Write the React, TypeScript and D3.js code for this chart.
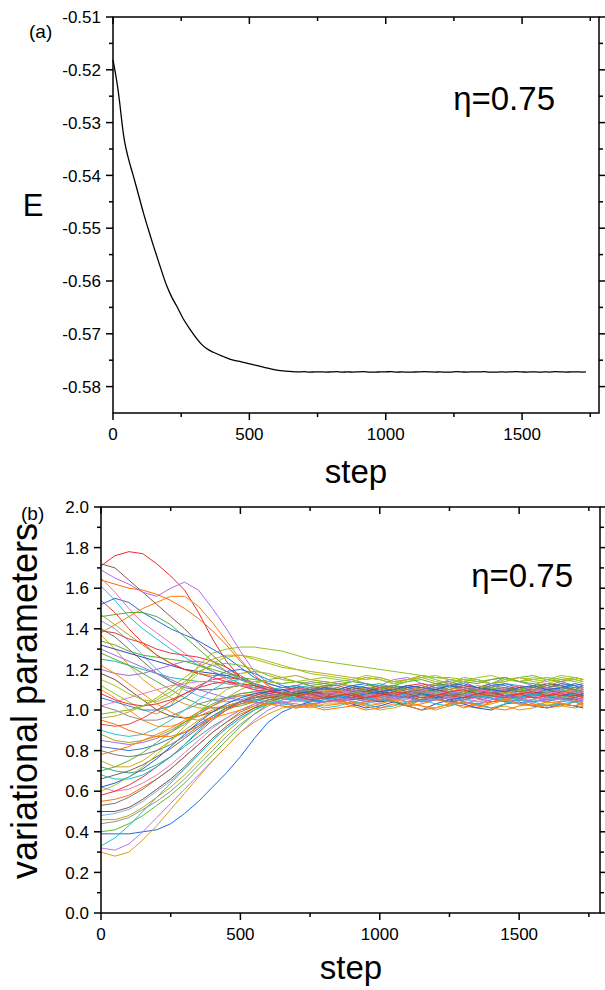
import React from 'react';
import * as d3 from 'd3';

// ---------- Panel (a): energy ----------
const eSteps = [
  0, 6, 12, 19, 24, 28, 34, 40, 44, 55, 65, 74, 90, 111, 130, 148, 170, 197, 215, 233,
  258, 282, 307, 325, 343, 368, 404, 441, 470, 502, 551, 600, 648,
  680, 700, 720, 740, 760, 780, 800, 820, 840, 860,
  880, 900, 920, 940, 960, 980, 1000, 1020, 1040, 1060,
  1080, 1100, 1120, 1140, 1160, 1180, 1200, 1220, 1240, 1260,
  1280, 1300, 1320, 1340, 1360, 1380, 1400, 1420, 1440, 1460,
  1480, 1500, 1520, 1540, 1560, 1580, 1600, 1620, 1640, 1660,
  1680, 1700, 1720, 1734,
];
const eValues = [
  -0.5181, -0.5198, -0.5216, -0.524, -0.526, -0.5278, -0.5305, -0.5328, -0.534, -0.5365,
  -0.5384, -0.54, -0.543, -0.547, -0.5503, -0.5533, -0.5568, -0.5609, -0.563, -0.5647,
  -0.5672, -0.5691, -0.5709, -0.572, -0.5728, -0.5735, -0.5743, -0.575, -0.5753, -0.5757,
  -0.5763, -0.5769, -0.5771,
  -0.57722, -0.57718, -0.57726, -0.57722, -0.5772, -0.57725, -0.57722, -0.57718, -0.57725, -0.57722,
  -0.57725, -0.5772, -0.57718, -0.57725, -0.57726, -0.57722, -0.5772, -0.57718, -0.57725, -0.57722,
  -0.57726, -0.57724, -0.57722, -0.57718, -0.5772, -0.57725, -0.57722, -0.57726, -0.57724, -0.57718,
  -0.57722, -0.57725, -0.5772, -0.57722, -0.57718, -0.57725, -0.57726, -0.57722, -0.57724, -0.5772,
  -0.57718, -0.57722, -0.57725, -0.5772, -0.57726, -0.57722, -0.57724, -0.57718, -0.5772, -0.57725,
  -0.57722, -0.5772, -0.57725, -0.57722,
];
const eMajorTicks = [-0.58, -0.57, -0.56, -0.55, -0.54, -0.53, -0.52, -0.51];
const eMinorTicks = [-0.575, -0.565, -0.555, -0.545, -0.535, -0.525, -0.515];

// ---------- Panel (b): variational parameters ----------
const paramSteps = [
  0, 50, 100, 150, 200, 250, 300, 350, 400, 450, 500, 550, 600, 650, 700, 750, 800,
  850, 900, 950, 1000, 1050, 1100, 1150, 1200, 1250, 1300,
  1350, 1400, 1450, 1500, 1550, 1600, 1650, 1700, 1730,
];
// steps 0 .. 800
const paramHeads: number[][] = [
  [1.71,1.76,1.78,1.77,1.72,1.66,1.59,1.48,1.35,1.24,1.16,1.12,1.10,1.09,1.11,1.10,1.09],
  [1.72,1.70,1.64,1.58,1.52,1.46,1.40,1.33,1.27,1.21,1.16,1.12,1.10,1.08,1.07,1.08,1.06],
  [1.69,1.65,1.62,1.58,1.56,1.60,1.63,1.59,1.50,1.40,1.29,1.19,1.13,1.11,1.12,1.14,1.13],
  [1.64,1.62,1.60,1.59,1.57,1.54,1.50,1.45,1.39,1.32,1.24,1.17,1.12,1.08,1.06,1.05,1.04],
  [1.61,1.54,1.46,1.40,1.35,1.30,1.26,1.22,1.19,1.16,1.13,1.11,1.10,1.09,1.08,1.09,1.07],
  [1.52,1.55,1.53,1.48,1.44,1.40,1.37,1.34,1.30,1.26,1.21,1.16,1.13,1.11,1.12,1.10,1.11],
  [1.65,1.58,1.50,1.43,1.38,1.33,1.28,1.23,1.19,1.15,1.12,1.10,1.08,1.07,1.06,1.05,1.07],
  [1.46,1.47,1.48,1.48,1.46,1.42,1.36,1.30,1.24,1.19,1.15,1.12,1.10,1.08,1.09,1.07,1.08],
  [1.38,1.42,1.46,1.50,1.53,1.56,1.56,1.51,1.43,1.34,1.25,1.17,1.12,1.09,1.10,1.08,1.09],
  [1.47,1.42,1.37,1.32,1.27,1.23,1.20,1.18,1.17,1.17,1.18,1.19,1.18,1.16,1.14,1.12,1.10],
  [1.44,1.40,1.34,1.27,1.20,1.14,1.10,1.07,1.05,1.04,1.05,1.07,1.09,1.10,1.11,1.12,1.10],
  [1.39,1.38,1.35,1.33,1.30,1.28,1.27,1.26,1.24,1.21,1.17,1.13,1.10,1.08,1.07,1.06,1.08],
  [1.40,1.36,1.30,1.24,1.18,1.14,1.11,1.10,1.10,1.11,1.12,1.11,1.10,1.08,1.09,1.10,1.08],
  [1.37,1.30,1.22,1.15,1.10,1.06,1.03,1.01,1.01,1.02,1.04,1.06,1.08,1.09,1.10,1.09,1.11],
  [1.32,1.30,1.28,1.26,1.24,1.22,1.20,1.19,1.18,1.17,1.15,1.13,1.11,1.09,1.07,1.05,1.04],
  [1.25,1.24,1.22,1.20,1.18,1.16,1.15,1.14,1.14,1.13,1.12,1.11,1.10,1.11,1.12,1.11,1.09],
  [1.28,1.25,1.22,1.18,1.14,1.10,1.06,1.03,1.01,1.01,1.02,1.04,1.06,1.07,1.06,1.07,1.09],
  [1.20,1.18,1.17,1.18,1.20,1.22,1.24,1.24,1.22,1.19,1.16,1.13,1.10,1.09,1.10,1.09,1.08],
  [1.18,1.15,1.10,1.05,1.00,0.97,0.96,0.97,0.99,1.02,1.04,1.06,1.07,1.06,1.05,1.07,1.08],
  [1.12,1.08,1.04,1.00,0.98,1.02,1.12,1.22,1.28,1.30,1.31,1.31,1.30,1.29,1.27,1.25,1.24],
  [1.10,1.06,1.00,0.95,0.92,0.92,0.94,0.97,1.00,1.02,1.04,1.05,1.06,1.07,1.08,1.06,1.07],
  [1.06,1.04,1.02,1.00,1.00,1.02,1.06,1.11,1.16,1.19,1.20,1.18,1.15,1.12,1.10,1.09,1.11],
  [1.02,1.00,0.97,0.95,0.95,0.97,1.00,1.03,1.05,1.06,1.07,1.07,1.06,1.08,1.07,1.09,1.08],
  [0.98,0.99,1.00,1.02,1.05,1.09,1.14,1.19,1.22,1.23,1.22,1.20,1.17,1.15,1.14,1.13,1.14],
  [0.93,0.92,0.93,0.96,1.00,1.04,1.08,1.12,1.15,1.16,1.15,1.13,1.11,1.09,1.07,1.08,1.09],
  [0.90,0.88,0.87,0.88,0.91,0.95,1.00,1.05,1.10,1.14,1.15,1.13,1.10,1.08,1.06,1.05,1.07],
  [0.88,0.85,0.84,0.85,0.87,0.90,0.94,0.98,1.02,1.06,1.10,1.13,1.15,1.16,1.17,1.15,1.14],
  [0.85,0.84,0.83,0.84,0.86,0.89,0.93,0.98,1.02,1.06,1.08,1.09,1.08,1.07,1.05,1.06,1.04],
  [0.82,0.81,0.80,0.81,0.83,0.86,0.89,0.93,0.97,1.01,1.04,1.06,1.08,1.09,1.11,1.10,1.12],
  [0.78,0.80,0.82,0.85,0.88,0.91,0.95,0.99,1.02,1.05,1.07,1.08,1.07,1.06,1.05,1.07,1.06],
  [0.75,0.72,0.72,0.75,0.80,0.85,0.90,0.95,0.99,1.02,1.04,1.06,1.07,1.08,1.07,1.09,1.10],
  [0.72,0.70,0.69,0.70,0.73,0.77,0.82,0.87,0.92,0.96,1.00,1.03,1.05,1.06,1.05,1.04,1.06],
  [0.70,0.72,0.75,0.79,0.84,0.89,0.94,0.99,1.03,1.06,1.08,1.09,1.10,1.09,1.08,1.10,1.09],
  [0.66,0.68,0.70,0.73,0.77,0.81,0.86,0.91,0.96,1.00,1.03,1.05,1.06,1.07,1.09,1.08,1.07],
  [0.62,0.60,0.61,0.64,0.68,0.73,0.79,0.85,0.91,0.96,1.00,1.03,1.05,1.06,1.04,1.05,1.07],
  [0.58,0.60,0.63,0.67,0.72,0.77,0.83,0.89,0.95,1.00,1.04,1.07,1.09,1.10,1.11,1.10,1.12],
  [0.55,0.56,0.58,0.62,0.66,0.71,0.77,0.83,0.89,0.94,0.98,1.01,1.03,1.04,1.03,1.02,1.04],
  [0.53,0.54,0.57,0.61,0.66,0.71,0.77,0.83,0.89,0.94,0.99,1.02,1.05,1.07,1.08,1.06,1.07],
  [0.50,0.50,0.52,0.56,0.61,0.66,0.72,0.79,0.86,0.92,0.97,1.01,1.04,1.06,1.08,1.09,1.08],
  [0.48,0.49,0.51,0.55,0.60,0.65,0.71,0.78,0.85,0.91,0.96,1.00,1.03,1.04,1.05,1.03,1.04],
  [0.46,0.46,0.48,0.52,0.57,0.62,0.68,0.75,0.82,0.89,0.95,1.00,1.04,1.07,1.09,1.11,1.12],
  [0.44,0.45,0.47,0.51,0.55,0.60,0.66,0.73,0.80,0.87,0.93,0.98,1.02,1.05,1.06,1.08,1.07],
  [0.40,0.41,0.44,0.48,0.53,0.58,0.64,0.71,0.78,0.85,0.92,0.98,1.03,1.06,1.08,1.09,1.10],
  [0.39,0.39,0.39,0.40,0.41,0.44,0.49,0.55,0.62,0.69,0.77,0.86,0.94,0.99,1.02,1.04,1.05],
  [0.33,0.37,0.43,0.50,0.57,0.64,0.71,0.78,0.85,0.91,0.96,1.00,1.03,1.05,1.06,1.04,1.05],
  [0.32,0.31,0.34,0.40,0.47,0.54,0.61,0.68,0.75,0.82,0.89,0.95,1.00,1.03,1.05,1.07,1.08],
  [0.30,0.28,0.30,0.36,0.43,0.51,0.59,0.67,0.75,0.82,0.89,0.94,0.98,1.01,1.02,1.01,1.03],
  [1.54,1.48,1.40,1.33,1.27,1.23,1.20,1.18,1.16,1.14,1.12,1.10,1.09,1.08,1.07,1.08,1.06],
  [1.02,1.04,1.06,1.08,1.10,1.12,1.13,1.14,1.14,1.13,1.12,1.11,1.10,1.09,1.10,1.11,1.09],
  [1.15,1.12,1.08,1.05,1.04,1.07,1.12,1.18,1.23,1.26,1.27,1.26,1.24,1.22,1.20,1.18,1.17],
  [0.62,0.64,0.67,0.71,0.76,0.82,0.88,0.94,0.99,1.03,1.06,1.08,1.09,1.10,1.08,1.09,1.11],
  [0.95,0.93,0.90,0.88,0.87,0.87,0.89,0.92,0.96,1.00,1.03,1.04,1.03,1.02,1.01,1.02,1.00],
  [1.34,1.32,1.29,1.27,1.26,1.25,1.24,1.22,1.20,1.18,1.16,1.15,1.14,1.13,1.14,1.12,1.13],
  [0.68,0.66,0.66,0.68,0.72,0.77,0.83,0.90,0.96,1.01,1.04,1.05,1.04,1.03,1.02,1.03,1.01],
  [1.08,1.05,1.03,1.02,1.03,1.05,1.08,1.11,1.13,1.14,1.13,1.12,1.10,1.08,1.07,1.05,1.06],
  [1.30,1.27,1.24,1.21,1.18,1.15,1.12,1.10,1.08,1.06,1.05,1.04,1.03,1.04,1.02,1.03,1.04],
  [0.80,0.78,0.77,0.78,0.80,0.83,0.87,0.92,0.97,1.01,1.04,1.06,1.07,1.08,1.09,1.11,1.10],
  [0.60,0.63,0.67,0.72,0.78,0.85,0.92,0.99,1.05,1.10,1.13,1.14,1.14,1.13,1.14,1.15,1.16],
  [1.22,1.18,1.13,1.08,1.03,0.99,0.96,0.95,0.96,0.98,1.00,1.02,1.03,1.02,1.01,1.03,1.02],
  [0.96,0.97,0.99,1.02,1.06,1.11,1.16,1.21,1.25,1.27,1.27,1.25,1.23,1.21,1.20,1.19,1.18],
];
// steps 850 .. 1730
const paramTails: number[][] = [
  [1.10,1.08,1.09,1.11,1.12,1.10,1.09,1.10,1.12,1.11,1.09,1.08,1.10,1.11,1.10,1.09,1.11,1.10,1.09],
  [1.05,1.06,1.08,1.07,1.06,1.08,1.09,1.07,1.06,1.05,1.07,1.08,1.06,1.07,1.08,1.06,1.07,1.08,1.07],
  [1.14,1.15,1.13,1.12,1.15,1.16,1.13,1.12,1.15,1.14,1.11,1.13,1.16,1.14,1.12,1.15,1.14,1.12,1.13],
  [1.04,1.02,1.03,1.05,1.04,1.02,1.05,1.06,1.03,1.02,1.01,1.04,1.05,1.03,1.02,1.04,1.03,1.02,1.03],
  [1.10,1.09,1.07,1.06,1.08,1.09,1.07,1.08,1.09,1.10,1.08,1.07,1.09,1.08,1.07,1.09,1.10,1.08,1.09],
  [1.10,1.12,1.13,1.11,1.10,1.12,1.11,1.13,1.14,1.12,1.11,1.13,1.12,1.10,1.11,1.13,1.12,1.11,1.12],
  [1.04,1.05,1.07,1.08,1.06,1.05,1.04,1.06,1.07,1.05,1.06,1.08,1.07,1.05,1.04,1.06,1.05,1.07,1.06],
  [1.08,1.06,1.07,1.09,1.10,1.08,1.07,1.09,1.08,1.06,1.08,1.10,1.09,1.07,1.08,1.10,1.09,1.08,1.07],
  [1.08,1.10,1.09,1.07,1.09,1.11,1.10,1.08,1.07,1.09,1.10,1.12,1.10,1.09,1.11,1.10,1.08,1.09,1.10],
  [1.07,1.09,1.08,1.06,1.07,1.08,1.10,1.09,1.07,1.06,1.08,1.07,1.05,1.06,1.08,1.09,1.07,1.06,1.08],
  [1.13,1.11,1.10,1.09,1.11,1.12,1.10,1.11,1.13,1.12,1.10,1.11,1.09,1.10,1.12,1.11,1.13,1.12,1.11],
  [1.08,1.07,1.05,1.04,1.06,1.07,1.05,1.06,1.08,1.07,1.06,1.04,1.05,1.07,1.06,1.05,1.07,1.08,1.06],
  [1.09,1.10,1.08,1.09,1.11,1.09,1.08,1.10,1.09,1.07,1.08,1.10,1.11,1.09,1.08,1.07,1.09,1.10,1.09],
  [1.09,1.08,1.06,1.08,1.09,1.07,1.06,1.08,1.10,1.09,1.07,1.08,1.09,1.11,1.10,1.08,1.07,1.09,1.08],
  [1.05,1.03,1.01,1.02,1.04,1.02,1.00,1.03,1.05,1.03,1.01,1.00,1.03,1.04,1.02,1.01,1.03,1.02,1.01],
  [1.09,1.10,1.12,1.13,1.11,1.10,1.09,1.11,1.12,1.10,1.09,1.11,1.13,1.12,1.10,1.09,1.11,1.12,1.10],
  [1.08,1.06,1.05,1.07,1.08,1.06,1.05,1.07,1.09,1.08,1.06,1.07,1.09,1.08,1.06,1.05,1.07,1.08,1.07],
  [1.08,1.11,1.10,1.08,1.07,1.09,1.11,1.10,1.08,1.09,1.11,1.10,1.08,1.07,1.09,1.11,1.10,1.09,1.10],
  [1.07,1.05,1.06,1.04,1.05,1.07,1.08,1.06,1.04,1.05,1.07,1.06,1.04,1.05,1.07,1.08,1.06,1.05,1.06],
  [1.23,1.22,1.21,1.20,1.19,1.18,1.17,1.16,1.16,1.15,1.14,1.15,1.16,1.14,1.15,1.16,1.15,1.16,1.15],
  [1.10,1.08,1.07,1.09,1.08,1.06,1.08,1.09,1.07,1.08,1.10,1.09,1.07,1.08,1.09,1.07,1.08,1.10,1.08],
  [1.08,1.09,1.11,1.10,1.08,1.07,1.09,1.10,1.12,1.10,1.08,1.09,1.10,1.08,1.07,1.09,1.11,1.10,1.09],
  [1.09,1.08,1.07,1.05,1.06,1.08,1.07,1.09,1.08,1.06,1.07,1.09,1.08,1.06,1.07,1.08,1.06,1.07,1.08],
  [1.13,1.14,1.16,1.15,1.13,1.15,1.17,1.15,1.13,1.16,1.15,1.13,1.14,1.16,1.17,1.15,1.14,1.16,1.15],
  [1.08,1.07,1.09,1.10,1.08,1.07,1.06,1.08,1.09,1.07,1.06,1.08,1.10,1.09,1.08,1.06,1.07,1.09,1.08],
  [1.07,1.06,1.08,1.09,1.10,1.08,1.07,1.09,1.08,1.07,1.09,1.10,1.08,1.07,1.09,1.08,1.10,1.09,1.07],
  [1.13,1.12,1.10,1.09,1.10,1.09,1.07,1.06,1.08,1.09,1.07,1.08,1.06,1.07,1.09,1.08,1.06,1.07,1.09],
  [1.06,1.04,1.05,1.07,1.06,1.04,1.05,1.06,1.04,1.03,1.05,1.06,1.04,1.05,1.07,1.05,1.04,1.06,1.05],
  [1.08,1.09,1.11,1.10,1.12,1.11,1.09,1.10,1.12,1.11,1.10,1.12,1.13,1.11,1.10,1.11,1.13,1.12,1.10],
  [1.07,1.08,1.06,1.07,1.09,1.08,1.06,1.05,1.07,1.08,1.06,1.07,1.08,1.10,1.08,1.07,1.06,1.08,1.07],
  [1.09,1.07,1.08,1.10,1.11,1.09,1.08,1.07,1.09,1.10,1.08,1.07,1.09,1.08,1.10,1.11,1.09,1.08,1.09],
  [1.04,1.06,1.07,1.05,1.04,1.03,1.05,1.06,1.04,1.05,1.07,1.06,1.04,1.03,1.05,1.04,1.06,1.05,1.04],
  [1.07,1.08,1.10,1.11,1.09,1.08,1.10,1.09,1.11,1.10,1.08,1.09,1.11,1.10,1.09,1.11,1.12,1.10,1.09],
  [1.06,1.07,1.09,1.08,1.07,1.09,1.08,1.06,1.07,1.08,1.10,1.08,1.07,1.06,1.08,1.09,1.07,1.08,1.07],
  [1.04,1.06,1.07,1.05,1.06,1.08,1.06,1.05,1.07,1.06,1.04,1.05,1.07,1.06,1.05,1.07,1.06,1.04,1.06],
  [1.12,1.10,1.09,1.11,1.10,1.12,1.13,1.11,1.10,1.12,1.11,1.09,1.10,1.12,1.11,1.13,1.12,1.10,1.11],
  [1.05,1.03,1.04,1.06,1.05,1.02,1.03,1.05,1.04,1.01,1.03,1.04,1.06,1.05,1.03,1.02,1.04,1.05,1.03],
  [1.05,1.06,1.08,1.09,1.07,1.06,1.05,1.07,1.08,1.06,1.07,1.09,1.07,1.06,1.08,1.07,1.05,1.06,1.08],
  [1.09,1.11,1.10,1.08,1.09,1.11,1.12,1.10,1.09,1.08,1.10,1.11,1.09,1.10,1.12,1.11,1.09,1.10,1.11],
  [1.07,1.06,1.04,1.03,1.05,1.06,1.04,1.05,1.07,1.05,1.04,1.06,1.05,1.03,1.04,1.06,1.05,1.04,1.05],
  [1.10,1.09,1.11,1.12,1.10,1.09,1.11,1.13,1.11,1.10,1.12,1.11,1.09,1.10,1.12,1.11,1.09,1.10,1.11],
  [1.08,1.09,1.07,1.06,1.08,1.07,1.09,1.08,1.06,1.07,1.09,1.08,1.06,1.08,1.07,1.09,1.10,1.08,1.07],
  [1.11,1.09,1.08,1.10,1.12,1.10,1.09,1.11,1.10,1.08,1.10,1.11,1.09,1.10,1.12,1.10,1.09,1.11,1.10],
  [1.07,1.06,1.08,1.09,1.07,1.06,1.08,1.07,1.05,1.06,1.08,1.09,1.07,1.06,1.08,1.10,1.08,1.07,1.08],
  [1.06,1.08,1.06,1.05,1.07,1.08,1.06,1.07,1.09,1.08,1.06,1.07,1.05,1.06,1.08,1.07,1.06,1.08,1.07],
  [1.09,1.10,1.08,1.07,1.09,1.08,1.10,1.11,1.09,1.08,1.07,1.09,1.10,1.08,1.09,1.11,1.09,1.08,1.09],
  [1.03,1.04,1.02,1.00,1.01,1.03,1.02,1.00,1.02,1.04,1.03,1.01,1.02,1.00,1.01,1.03,1.02,1.01,1.02],
  [1.09,1.07,1.06,1.08,1.07,1.09,1.10,1.08,1.07,1.06,1.08,1.09,1.07,1.08,1.06,1.07,1.09,1.08,1.07],
  [1.08,1.09,1.10,1.12,1.11,1.09,1.10,1.08,1.09,1.11,1.10,1.09,1.11,1.12,1.10,1.09,1.08,1.10,1.11],
  [1.16,1.15,1.17,1.16,1.14,1.15,1.17,1.16,1.15,1.14,1.16,1.17,1.15,1.14,1.16,1.15,1.17,1.16,1.15],
  [1.10,1.12,1.11,1.09,1.10,1.12,1.11,1.10,1.12,1.13,1.11,1.10,1.09,1.11,1.12,1.10,1.11,1.13,1.12],
  [1.01,1.02,1.00,1.01,1.03,1.02,1.00,1.01,1.03,1.04,1.02,1.01,1.00,1.02,1.03,1.01,1.02,1.04,1.02],
  [1.12,1.14,1.13,1.11,1.12,1.14,1.15,1.13,1.12,1.14,1.13,1.15,1.16,1.14,1.13,1.12,1.14,1.15,1.14],
  [1.02,1.04,1.03,1.01,1.02,1.04,1.05,1.03,1.02,1.04,1.03,1.01,1.03,1.05,1.04,1.02,1.03,1.04,1.03],
  [1.07,1.08,1.06,1.07,1.09,1.08,1.06,1.07,1.09,1.10,1.08,1.07,1.06,1.08,1.09,1.07,1.08,1.06,1.07],
  [1.05,1.06,1.04,1.05,1.07,1.06,1.04,1.05,1.06,1.04,1.03,1.05,1.07,1.06,1.04,1.05,1.06,1.04,1.05],
  [1.11,1.09,1.10,1.12,1.11,1.09,1.10,1.12,1.13,1.11,1.10,1.12,1.11,1.09,1.10,1.12,1.11,1.10,1.12],
  [1.15,1.14,1.16,1.15,1.13,1.14,1.16,1.17,1.15,1.14,1.15,1.13,1.14,1.16,1.15,1.14,1.16,1.15,1.14],
  [1.03,1.04,1.02,1.03,1.05,1.04,1.02,1.01,1.03,1.04,1.02,1.03,1.05,1.03,1.02,1.04,1.03,1.02,1.04],
  [1.17,1.16,1.15,1.16,1.14,1.15,1.16,1.14,1.13,1.15,1.14,1.13,1.15,1.16,1.14,1.13,1.15,1.14,1.13],
];
const seriesColors = [
  '#F0282D', '#8C5A48', '#B36BEF', '#FF6A00', '#19C2D8', '#1F6FE5', '#F070B8', '#4DB034',
  '#FF7A12', '#B0A818', '#6FA6E0', '#E83A3E', '#6E6E6E', '#D9A11E', '#2F47B8', '#1CB5B0',
  '#5AAE3C', '#9C6CD6', '#7C4B3B', '#8DC31F', '#FF8C1A', '#2A7DE1', '#8A8A8A', '#7DBB2A',
  '#EF4444', '#22C7D6', '#A9A41C', '#A86BE8', '#3A6FD8', '#FF7F0E', '#D8A520', '#2AA7A2',
  '#55B838', '#8B5E4D', '#EE78C0', '#E93535', '#FF6F0F', '#777777', '#7A5040', '#7EB0E6',
  '#B4AC1E', '#929292', '#5DBA2E', '#1E6CE3', '#18C4DB', '#B476EE', '#D99E1A', '#F2353A',
  '#F07DBF', '#A3C41E', '#2060D8', '#FF7400', '#52B02C', '#20C0D0', '#EC3434', '#A66BE0',
  '#7A7A7A', '#9CC828', '#FF8C00', '#B8B020',
];
const pMajorTicks = [0, 0.2, 0.4, 0.6, 0.8, 1.0, 1.2, 1.4, 1.6, 1.8, 2.0];
const pMinorTicks = [0.1, 0.3, 0.5, 0.7, 0.9, 1.1, 1.3, 1.5, 1.7, 1.9];

const stepMajorTicks = [0, 500, 1000, 1500];
const stepMinorTicks = [250, 750, 1250, 1750];

const FONT = "'Liberation Sans', Arial, Helvetica, sans-serif";
const MAJ = 7;
const MIN = 4;

type Scale = d3.ScaleLinear<number, number>;

function Frame({ x, y, yMajor, yMinor, yFmt }: { x: Scale; y: Scale; yMajor: number[]; yMinor: number[]; yFmt: (v: number) => string }) {
  const [x0, x1] = x.range();
  const [y0, y1] = y.range(); // y0 bottom, y1 top
  return (
    <g stroke="#000" strokeWidth={1.5} fill="none">
      <rect x={x0} y={y1} width={x1 - x0} height={y0 - y1} />
      {stepMajorTicks.map((t) => (
        <g key={'xM' + t}>
          <line x1={x(t)} x2={x(t)} y1={y0} y2={y0 + MAJ} />
          <line x1={x(t)} x2={x(t)} y1={y1} y2={y1 + MAJ} />
        </g>
      ))}
      {stepMinorTicks.filter((t) => x(t) < x1 - 1).map((t) => (
        <g key={'xm' + t}>
          <line x1={x(t)} x2={x(t)} y1={y0} y2={y0 + MIN} />
          <line x1={x(t)} x2={x(t)} y1={y1} y2={y1 + MIN} />
        </g>
      ))}
      {yMajor.map((t) => (
        <g key={'yM' + t}>
          <line x1={x0 - MAJ} x2={x0} y1={y(t)} y2={y(t)} />
          <line x1={x1} x2={x1 + MAJ} y1={y(t)} y2={y(t)} />
        </g>
      ))}
      {yMinor.map((t) => (
        <g key={'ym' + t}>
          <line x1={x0 - MIN} x2={x0} y1={y(t)} y2={y(t)} />
          <line x1={x1} x2={x1 + MIN} y1={y(t)} y2={y(t)} />
        </g>
      ))}
      <g stroke="none" fill="#000" fontFamily={FONT} fontSize={17}>
        {stepMajorTicks.map((t) => (
          <text key={'xl' + t} x={x(t)} y={y0 + 27} textAnchor="middle">{String(t)}</text>
        ))}
        {yMajor.map((t) => (
          <text key={'yl' + t} x={x0 - 12} y={y(t)} dy="0.36em" textAnchor="end">{yFmt(t)}</text>
        ))}
      </g>
    </g>
  );
}

export default function App() {
  const xA = d3.scaleLinear().domain([0, 1782]).range([113, 599]);
  const yA = d3.scaleLinear().domain([-0.585, -0.51]).range([413, 17]);
  const xB = d3.scaleLinear().domain([0, 1790]).range([101, 600]);
  const yB = d3.scaleLinear().domain([0, 2]).range([913, 507]);

  const lineA = d3.line<number>().x((_, i) => xA(eSteps[i])).y((d) => yA(d)).curve(d3.curveMonotoneX);
  const lineB = d3.line<number>().x((_, i) => xB(paramSteps[i])).y((d) => yB(d));

  const series = paramHeads.map((h, k) => h.concat(paramTails[k] || []).slice(0, paramSteps.length));

  return (
    <svg width={605} height={990} style={{ position: 'absolute', left: 0, top: 0, background: '#fff' }}>
      <rect x={0} y={0} width={605} height={990} fill="#fff" />
      {/* Panel (a) */}
      <path d={lineA(eValues) || ''} fill="none" stroke="#000" strokeWidth={1.3} />
      <Frame x={xA} y={yA} yMajor={eMajorTicks} yMinor={eMinorTicks} yFmt={(v) => v.toFixed(2)} />
      <text x={29} y={38} fontFamily={FONT} fontSize={19}>(a)</text>
      <text x={33} y={216} fontFamily={FONT} fontSize={31} textAnchor="middle">E</text>
      <text x={356} y={483} fontFamily={FONT} fontSize={33} textAnchor="middle">step</text>
      <text x={555} y={110} fontFamily={FONT} fontSize={33} textAnchor="end">η=0.75</text>

      {/* Panel (b) */}
      <g fill="none" strokeWidth={1}>
        {series.map((s, k) => (
          <path key={k} d={lineB(s) || ''} stroke={seriesColors[k % seriesColors.length]} />
        ))}
      </g>
      <Frame x={xB} y={yB} yMajor={pMajorTicks} yMinor={pMinorTicks} yFmt={(v) => v.toFixed(1)} />
      <text x={21} y={520} fontFamily={FONT} fontSize={19}>(b)</text>
      <text transform="translate(37,701) rotate(-90)" fontFamily={FONT} fontSize={36} textAnchor="middle">variational parameters</text>
      <text x={351} y={979} fontFamily={FONT} fontSize={33} textAnchor="middle">step</text>
      <text x={573} y={587} fontFamily={FONT} fontSize={33} textAnchor="end">η=0.75</text>
    </svg>
  );
}
